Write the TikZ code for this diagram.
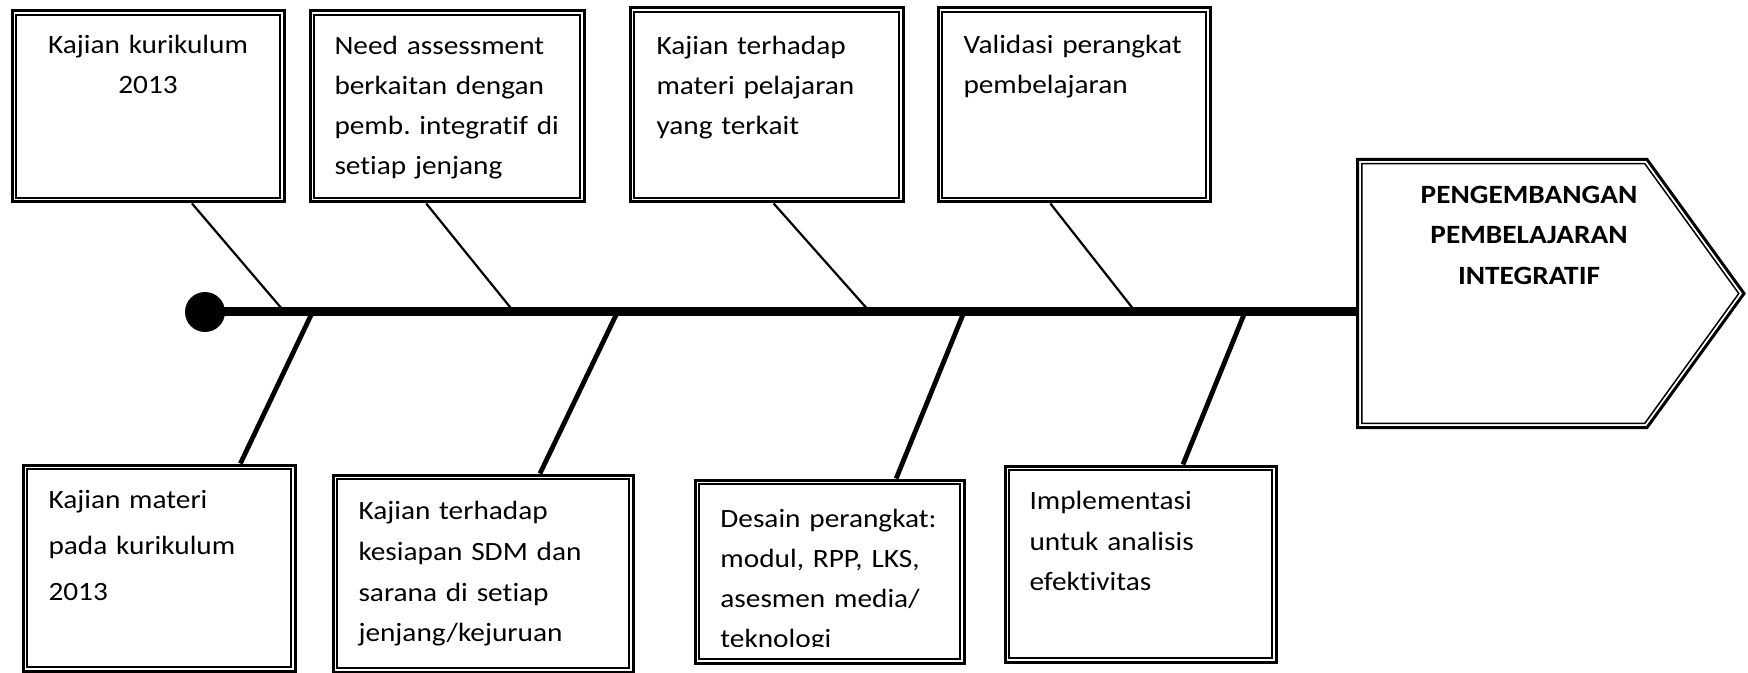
\documentclass[tikz,border=0pt]{standalone}
\usepackage{fontspec}
\setmainfont{Carlito}[FakeStretch=1.11,Ligatures=NoCommon]
\usetikzlibrary{calc}

\tikzset{
  fbox/.style={draw, line width=1.5pt, anchor=north west, inner ysep=0pt, align=left,
    path picture={\draw[line width=0.75pt]
      ([shift={(2.1pt,2.1pt)}]path picture bounding box.south west) rectangle
      ([shift={(-2.1pt,-2.1pt)}]path picture bounding box.north east);}},
  bone/.style={line width=1.1pt},
  rib/.style={line width=2.4pt},
  spine/.style={line width=4.5pt},
}

\begin{document}
\begin{tikzpicture}[x=0.5pt,y=-0.5pt,every node/.style={font=\fontsize{13.2}{20}\selectfont}]
\useasboundingbox (0,0) rectangle (1748,673);

\node[fbox,align=center,inner xsep=5pt,text width=126pt,text height=21.25pt,text depth=74.25pt] (b1) at (10.5,9.5) {Kajian kurikulum\\2013};
\node[fbox,inner xsep=12.25pt,text width=112.5pt,text height=21.75pt,text depth=73.75pt] (b2) at (308.5,9.5) {Need assessment\\berkaitan dengan\\pemb.~integratif~di\\setiap jenjang};
\node[fbox,inner xsep=13.25pt,text width=110pt,text height=23.25pt,text depth=73.75pt] (b3) at (628.5,6.5) {Kajian terhadap\\materi~pelajaran\\yang terkait};
\node[fbox,inner xsep=12.75pt,text width=110.5pt,text height=22.75pt,text depth=74.25pt] (b4) at (936.5,6.5) {Validasi~perangkat\\pembelajaran};

\node[fbox,font=\fontsize{13.2}{23}\selectfont,inner xsep=12.75pt,text width=110.5pt,text height=21.75pt,text depth=81.25pt] (b5) at (21.5,463.5) {Kajian materi\\pada~kurikulum\\2013};
\node[fbox,font=\fontsize{13.2}{20.4}\selectfont,inner xsep=12.75pt,text width=124.5pt,text height=22.25pt,text depth=76.25pt] (b6) at (331.5,473.5) {Kajian terhadap\\kesiapan~SDM~dan\\sarana di setiap\\jenjang/kejuruan};
\node[fbox,inner sep=0pt,minimum width=134.5pt,minimum height=91.5pt] (b7) at (693.5,478.5) {};
\begin{scope}
\clip (696,481) rectangle (960,646);
\node[anchor=north west,inner sep=0pt,align=left,text width=120pt,text height=10pt] (t7) at (720,507) {Desain~perangkat:\\modul, RPP, LKS,\\asesmen media/\\teknologi};
\end{scope}
\node[fbox,font=\fontsize{13.2}{20.25}\selectfont,inner xsep=12.25pt,text width=111pt,text height=21.75pt,text depth=76.25pt] (b8) at (1003.5,464.5) {Implementasi\\untuk analisis\\efektivitas};

\draw[line width=1.5pt] (1357.5,159.5) -- (1647,159.5) -- (1744,293.5) -- (1647,427.5) -- (1357.5,427.5) -- cycle;
\draw[line width=0.75pt] (1361.75,163.75) -- (1644.8,163.75) -- (1738.75,293.5) -- (1644.8,423.25) -- (1361.75,423.25) -- cycle;
\node[font=\fontsize{13.2}{20.25}\selectfont\bfseries,align=center,inner sep=0pt,text width=150pt,text height=10pt,anchor=north] (goal) at (1529,183) {PENGEMBANGAN\\PEMBELAJARAN\\INTEGRATIF};

\node[circle,fill,inner sep=0pt,minimum size=20pt] (dot) at (205,312) {};
\coordinate (head) at (1358,312);
\coordinate (s1) at (284.6,312);
\coordinate (s2) at (514,312);
\coordinate (s3) at (870,312);
\coordinate (s4) at (1135.6,312);
\coordinate (s5) at (312.5,312);
\coordinate (s6) at (617.5,312);
\coordinate (s7) at (964,312);
\coordinate (s8) at (1245,312);

\draw[bone] ($(b1.south west)!0.66!(b1.south east)$) -- (s1);
\draw[bone] ($(b2.south west)!0.425!(b2.south east)$) -- (s2);
\draw[bone] ($(b3.south west)!0.526!(b3.south east)$) -- (s3);
\draw[bone] ($(b4.south west)!0.414!(b4.south east)$) -- (s4);
\draw[rib] (s5) -- ($(b5.north west)!0.796!(b5.north east)$);
\draw[rib] (s6) -- ($(b6.north west)!0.688!(b6.north east)$);
\draw[rib] (s7) -- ($(b7.north west)!0.745!(b7.north east)$);
\draw[rib] (s8) -- ($(b8.north west)!0.655!(b8.north east)$);
\draw[spine] (dot.center) -- (head);
\end{tikzpicture}
\end{document}
